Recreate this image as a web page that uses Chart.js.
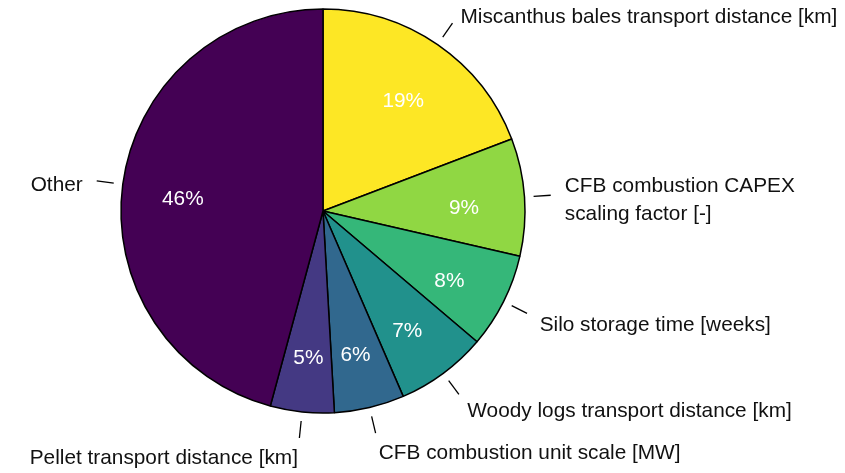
<!DOCTYPE html>
<html>
<head>
  <meta charset="UTF-8">
  <title>Sensitivity contributions</title>
  <script src="https://cdn.jsdelivr.net/npm/chart.js"></script>
  <style>
    body { margin: 0; background: #fff; }
  </style>
</head>
<body>
  <canvas id="pieChart" width="845" height="473"></canvas>

  <script>
    // Slices, clockwise from 12 o'clock
    const labels = [
      ['Miscanthus bales transport distance [km]'],
      ['CFB combustion CAPEX', 'scaling factor [-]'],
      ['Silo storage time [weeks]'],
      ['Woody logs transport distance [km]'],
      ['CFB combustion unit scale [MW]'],
      ['Pellet transport distance [km]'],
      ['Other']
    ];
    const shares = [19.2, 9.4, 7.6, 7.3, 5.6, 5.1, 45.8];
    const colors = ['#FDE725', '#90D743', '#35B779', '#21918C', '#31688E', '#443983', '#440154'];

    const FONT = '20.8px "Liberation Sans", Arial, sans-serif';

    // percentages inside, leader lines + names outside
    const sliceLabels = {
      id: 'sliceLabels',
      afterDatasetsDraw(chart) {
        const ctx = chart.ctx;
        const arcs = chart.getDatasetMeta(0).data;
        const total = shares.reduce((a, b) => a + b, 0);
        ctx.save();
        ctx.font = FONT;
        ctx.textBaseline = 'middle';
        arcs.forEach((arc, i) => {
          const { x, y, startAngle, endAngle, outerRadius: r } = arc.getProps(['x', 'y', 'startAngle', 'endAngle', 'outerRadius'], true);
          const mid = (startAngle + endAngle) / 2;
          const cx = Math.cos(mid), cy = Math.sin(mid);

          // percent
          ctx.fillStyle = '#fff';
          ctx.textAlign = 'center';
          ctx.fillText(Math.round(shares[i] / total * 100) + '%', x + cx * r * 0.7, y + cy * r * 0.7 + 7);

          // leader line
          ctx.strokeStyle = '#000';
          ctx.lineWidth = 1.3;
          ctx.beginPath();
          ctx.moveTo(x + cx * r * 1.045, y + cy * r * 1.045);
          ctx.lineTo(x + cx * r * 1.13, y + cy * r * 1.13);
          ctx.stroke();

          // name
          ctx.fillStyle = '#111';
          ctx.textAlign = cx >= 0 ? 'left' : 'right';
          const lines = labels[i];
          const lh = 28;
          const tx = x + cx * r * 1.2;
          const ty = y + cy * r * 1.2 + 6 - (lines.length - 1) * lh / 2;
          lines.forEach((t, k) => ctx.fillText(t, tx, ty + k * lh));
        });
        ctx.restore();
      }
    };

    new Chart(document.getElementById('pieChart'), {
      type: 'pie',
      data: {
        labels: labels.map(l => l.join(' ')),
        datasets: [{
          data: shares,
          backgroundColor: colors,
          borderColor: '#000',
          borderWidth: 1.5
        }]
      },
      options: {
        responsive: false,
        animation: false,
        radius: 202,
        layout: { padding: { left: 0, right: 199, top: 0, bottom: 51 } },
        plugins: {
          legend: { display: false },
          tooltip: { enabled: false }
        }
      },
      plugins: [sliceLabels]
    });
  </script>
</body>
</html>
